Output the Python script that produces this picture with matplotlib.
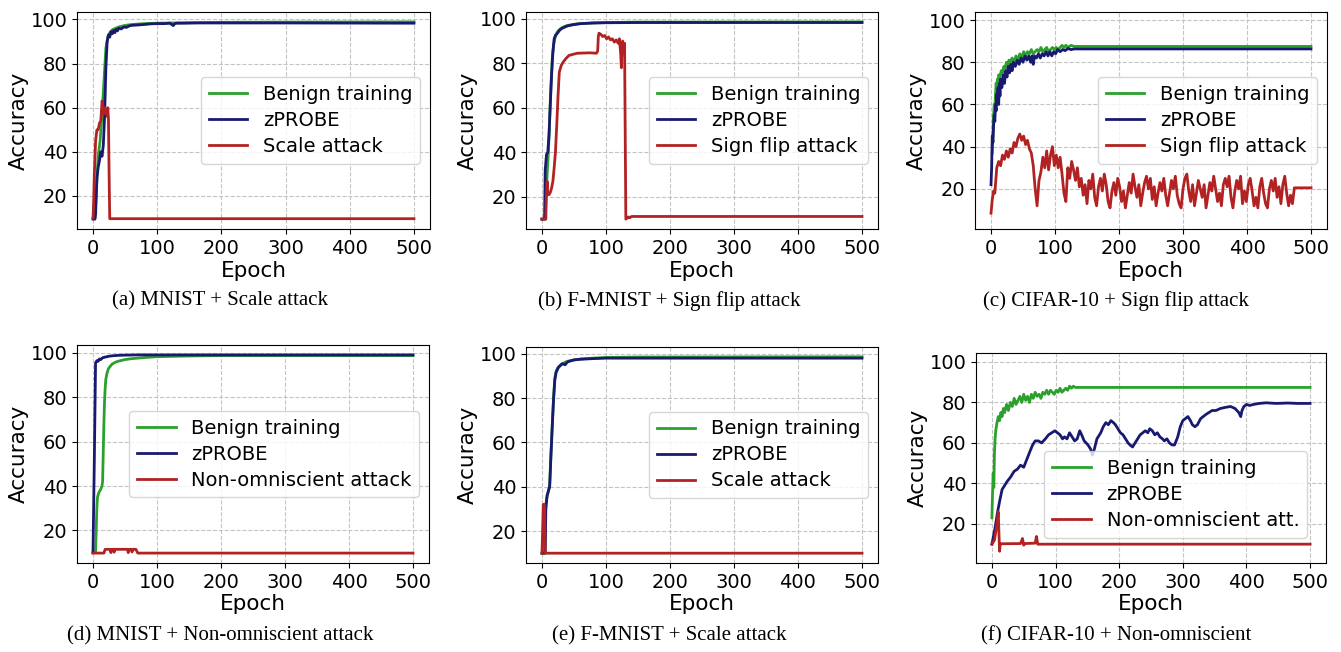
import matplotlib
matplotlib.use("Agg")
import matplotlib.pyplot as plt

GREEN = '#2ca02c'
NAVY = '#191970'
RED = '#b22222'

# ---- (a) MNIST + Scale attack ----
a_benign_ep = [0, 3, 5, 8, 11, 14, 17, 20, 23, 26, 30, 35, 40, 50, 60, 80, 100, 150, 200, 300, 500]
a_benign_acc = [10, 10, 22, 38, 45, 57, 72, 87, 92, 94, 95.3, 96, 96.6, 97.3, 97.7, 98.1, 98.3, 98.5, 98.7, 98.8, 98.9]
a_zprobe_ep = [0, 3, 4, 6, 8, 10, 12, 14, 16, 18,
               20, 22, 24, 26, 28, 30, 32, 34, 36, 38,
               40, 44, 48, 52, 56, 60, 70, 80, 90, 100,
               110, 120, 125, 127, 130, 140, 160, 200, 300, 500]
a_zprobe_acc = [9.5, 9.5, 12, 28, 33, 36, 40, 38, 43, 56,
                78, 90, 93, 92, 94.5, 93.5, 95, 94, 95.5, 94.8,
                96, 95.7, 96.6, 96.4, 97, 97.3, 97.5, 97.7, 98, 98.1,
                98.1, 98.3, 97.2, 98, 98.3, 98.3, 98.4, 98.4, 98.4, 98.3]
a_attack_ep = [0, 1, 2, 4, 6, 8, 10, 12, 13, 14,
               15, 16, 18, 20, 22, 23, 24, 25, 26, 500]
a_attack_acc = [10, 18, 30, 45, 50, 50, 53, 54, 58, 63,
                62, 57, 60, 59, 56, 60, 55, 30, 9.7, 9.7]

# ---- (b) F-MNIST + Sign flip attack ----
b_benign_ep = [0, 5, 6, 8, 10, 12, 14, 16, 18, 20, 22, 25, 30, 35, 40, 50, 60, 80, 100, 150, 500]
b_benign_acc = [10, 10, 20, 30, 40, 55, 70, 82, 88, 91, 93, 94.5, 95.8, 96.5, 97, 97.5, 97.8, 98.1, 98.3, 98.5, 98.6]
b_zprobe_ep = [0, 4, 5, 7, 9, 11, 13, 15, 17, 19, 21, 24, 28, 32, 40, 50, 60, 80, 100, 150, 500]
b_zprobe_acc = [10, 10, 32, 39, 40, 48, 62, 75, 85, 91, 92.5, 93.5, 95, 95.8, 96.8, 97.4, 97.8, 98.1, 98.2, 98.3, 98.3]
b_attack_ep = [0, 6, 7, 8, 9, 11, 13, 15, 17, 19,
               21, 23, 25, 27, 30, 33, 37, 42, 48, 55,
               65, 75, 85, 87, 88, 89, 92, 95, 98, 101,
               104, 107, 110, 113, 116, 119, 121, 123, 124, 125,
               126, 128, 129, 131, 133, 135, 137, 140, 500]
b_attack_acc = [10, 10, 22, 27, 21, 21, 22, 24, 27, 33,
                40, 52, 65, 76, 79, 80.5, 82, 83.5, 84, 84.5,
                84.6, 84.7, 84.5, 85.5, 92, 93.5, 93, 92, 92.5, 91,
                91.8, 90.5, 91, 89.5, 90.5, 89, 91, 84, 78, 87,
                90, 85, 89, 10, 10.5, 11, 10.6, 11.2, 11.2]

# ---- (c) CIFAR-10 + Sign flip attack ----
c_benign_ep = [2, 3, 4, 5, 6, 7, 8, 9, 10, 11,
               12, 14, 16, 18, 20, 22, 24, 26, 28, 30,
               33, 36, 39, 42, 45, 48, 51, 54, 57, 60,
               63, 66, 69, 72, 75, 78, 81, 84, 87, 90,
               93, 96, 99, 102, 105, 108, 111, 114, 117, 120,
               125, 130, 500]
c_benign_acc = [37, 45, 55, 60, 58, 65, 70, 67, 72, 70,
                74, 73, 76, 75, 78, 77, 80, 78, 81, 80,
                82, 80, 83, 81, 84, 82, 85, 83, 85, 84,
                86, 84, 85, 86, 85, 87, 85, 86, 87, 85,
                86, 87, 86, 87, 86, 87, 88, 87, 88, 87,
                88, 87.5, 87.5]
c_zprobe_ep = [0, 1, 2, 3, 4, 5, 6, 7, 8, 9,
               10, 11, 12, 13, 14, 15, 17, 19, 21, 23,
               25, 27, 29, 31, 33, 35, 38, 41, 44, 47,
               50, 53, 56, 59, 62, 64, 66, 68, 71, 74,
               77, 80, 83, 86, 89, 92, 95, 98, 101, 104,
               108, 112, 116, 120, 125, 130, 500]
c_zprobe_acc = [22, 30, 45, 42, 50, 55, 52, 60, 57, 65,
                62, 68, 60, 70, 64, 72, 68, 74, 70, 76,
                73, 78, 75, 79, 76, 80, 78, 81, 79, 82,
                80, 83, 81, 83, 80, 83, 79, 83, 82, 84,
                82, 84, 83, 85, 83, 85, 83, 85, 84, 86,
                85, 86, 85.5, 86.5, 86, 86.3, 86.3]
c_attack_ep = [0, 2, 4,
               6, 9, 12, 15, 18, 21, 24, 27, 30, 33,
               36, 39, 42, 45, 48, 51, 54, 57, 60, 63,
               66, 69, 72, 75, 78, 81, 84, 87, 90, 93,
               96, 99, 102, 105, 108, 111, 114, 117, 120, 123,
               126, 129, 132, 135, 138, 141, 144, 147, 150, 153,
               156, 159, 162, 165, 168, 171, 174, 177, 180, 183,
               186, 189, 192, 195, 198, 201, 204, 207, 210, 213,
               216, 219, 222, 225, 228, 231, 234, 237, 240, 243,
               246, 249, 252, 255, 258, 261, 264, 267, 270, 273,
               276, 279, 282, 285, 288, 291, 294, 297, 300, 303,
               306, 309, 312, 315, 318, 321, 324, 327, 330, 333,
               336, 339, 342, 345, 348, 351, 354, 357, 360, 363,
               366, 369, 372, 375, 378, 381, 384, 387, 390, 393,
               396, 399, 402, 405, 408, 411, 414, 417, 420, 423,
               426, 429, 432, 435, 438, 441, 444, 447, 450, 453,
               456, 459, 462, 465, 468, 471, 474, 500]
c_attack_acc = [8.5, 15, 19,
                18, 30, 33, 31, 36, 34, 38, 35, 39, 37,
                42, 40, 44, 46, 43, 45, 41, 43, 39, 37,
                31, 20, 12, 24, 28, 35, 30, 38, 29, 36,
                40, 31, 36, 30, 35, 27, 18, 14, 30, 25,
                33, 29, 24, 30, 21, 25, 17, 22, 13, 24,
                20, 27, 16, 12, 21, 25, 19, 27, 22, 14,
                11, 19, 23, 17, 25, 21, 14, 19, 11, 17,
                23, 18, 27, 21, 16, 22, 12, 18, 23, 26,
                20, 25, 15, 21, 12, 18, 23, 19, 25, 17,
                12, 18, 24, 20, 26, 17, 13, 11, 20, 25,
                27, 19, 14, 22, 12, 18, 24, 20, 16, 22,
                11, 17, 23, 19, 26, 20, 14, 18, 12, 22,
                25, 21, 26, 16, 11, 19, 24, 20, 26, 13,
                19, 14, 22, 25, 19, 12, 16, 11, 21, 25,
                18, 13, 11, 20, 24, 19, 25, 16, 21, 13,
                22, 26, 18, 12, 17, 13, 20.5, 20.5]

# ---- (d) MNIST + Non-omniscient attack ----
d_benign_ep = [0, 4, 5, 6, 7, 9, 12, 14, 15, 16,
               17, 18, 19, 20, 22, 24, 27, 30, 35, 40,
               50, 60, 80, 100, 150, 200, 500]
d_benign_acc = [10, 10, 20, 30, 35, 37, 38.5, 40, 42, 55,
                68, 78, 84, 88, 91, 92.8, 94, 95, 95.8, 96.3,
                97, 97.4, 97.9, 98.3, 98.6, 98.8, 98.8]
d_zprobe_ep = [0, 2, 4, 6, 8, 10, 12, 15, 20, 25, 30, 40, 50, 70, 100, 500]
d_zprobe_acc = [10, 50, 95.5, 96.5, 96.2, 97.3, 97, 97.8, 98.2, 98.5, 98.7, 98.9, 99, 99.1, 99.1, 99.1]
d_attack_ep = [0, 17, 19, 27, 28, 29, 32, 33, 34, 45, 54, 55, 56, 60, 61, 62, 67, 70, 500]
d_attack_acc = [9.8, 9.8, 11.5, 11.5, 10, 11.5, 11.5, 10.2, 11.5, 11.5,
                11.5, 10, 11.5, 11.5, 10.3, 11.5, 11.5, 9.8, 9.8]

# ---- (e) F-MNIST + Scale attack ----
e_benign_ep = [0, 4, 5, 6, 8, 10, 12, 14, 16, 18, 20, 22, 25, 30, 35, 40, 50, 60, 80, 100, 150, 500]
e_benign_acc = [10, 10, 25, 32, 36, 38, 41, 55, 68, 80, 89, 92, 93.8, 95.2, 96, 96.6, 97.2, 97.6, 98, 98.3, 98.5, 98.6]
e_zprobe_ep = [0, 5, 6, 8, 10, 12, 14, 16, 18, 20, 22, 25, 28, 32, 36, 40, 45, 50, 60, 80, 100, 150, 500]
e_zprobe_acc = [10, 10, 30, 36, 38, 40, 54, 67, 79, 88, 91.5, 93.5, 94.5, 95.5, 95, 96.3, 96.8, 97.2, 97.5, 97.8, 98, 98, 98]
e_attack_ep = [0, 2, 4, 5, 500]
e_attack_acc = [10, 32, 32, 10, 10]

# ---- (f) CIFAR-10 + Non-omniscient ----
f_benign_ep = [0, 1, 2, 3, 4, 5, 6, 8, 10, 12,
               14, 16, 18, 20, 23, 26, 29, 32, 35, 38,
               41, 44, 47, 50, 53, 56, 59, 62, 65, 68,
               71, 74, 77, 80, 83, 86, 89, 92, 95, 98,
               101, 104, 107, 110, 113, 116, 119, 122, 125, 128,
               131, 500]
f_benign_acc = [23, 35, 45, 38, 55, 62, 66, 70, 73, 71,
                75, 73, 77, 75, 79, 76, 80, 78, 82, 79,
                81, 83, 80, 84, 81, 83, 80, 84, 82, 85,
                83, 84, 82, 85, 84, 86, 84, 86, 85, 84,
                86, 85, 87, 85, 86, 87, 86, 88, 87, 88,
                87.4, 87.4]
f_zprobe_ep = [0, 5, 9, 12, 16, 20, 24, 29, 35, 40,
               45, 50, 55, 60, 64, 68, 73, 78, 84, 89,
               94, 99, 103, 107, 111, 114, 118, 122, 126, 130,
               134, 138, 141, 145, 148, 151, 155, 158, 161, 165,
               171, 175, 179, 183, 187, 191, 194, 198, 202, 206,
               210, 214, 217, 221, 225, 229, 233, 237, 241, 245,
               248, 252, 256, 260, 264, 268, 271, 275, 279, 283,
               287, 292, 296, 300, 304, 308, 312, 315, 319, 323,
               328, 332, 336, 341, 346, 352, 359, 366, 375, 382,
               388, 391, 393, 396, 400, 405, 411, 420, 431, 447,
               465, 480, 500]
f_zprobe_acc = [10, 18, 26, 31, 37, 39, 41, 43, 46, 47,
                49, 48, 52, 56, 59, 61, 61, 60, 62, 64,
                65, 66, 65, 64, 62, 63, 62, 65, 63, 61,
                62, 66, 64, 61, 60, 59, 57, 54, 57, 62,
                65, 68, 70, 69, 71, 70, 69, 67, 65, 64,
                62, 60, 59, 58, 60, 62, 64, 65, 66, 65,
                67, 66, 64, 65, 63, 62, 61, 62, 60, 59,
                59, 63, 68, 71, 72, 73, 71, 69, 68, 69,
                72, 73, 74, 75, 76, 76, 77, 77.5, 78, 77,
                75, 73, 76, 78, 79, 78.5, 79, 79.5, 79.8, 79.5,
                79.7, 79.5, 79.5]
f_attack_ep = [0, 4, 8, 10, 11, 12, 13, 14, 45, 48, 50, 52, 68, 70, 72, 500]
f_attack_acc = [10, 12, 20, 26, 16, 6.5, 10, 10.2, 10.3, 12.8, 9.5, 10.3, 10.5, 13.8, 10, 10]

panels = [
    (a_benign_ep, a_benign_acc, a_zprobe_ep, a_zprobe_acc, a_attack_ep, a_attack_acc, 'Scale attack'),
    (b_benign_ep, b_benign_acc, b_zprobe_ep, b_zprobe_acc, b_attack_ep, b_attack_acc, 'Sign flip attack'),
    (c_benign_ep, c_benign_acc, c_zprobe_ep, c_zprobe_acc, c_attack_ep, c_attack_acc, 'Sign flip attack'),
    (d_benign_ep, d_benign_acc, d_zprobe_ep, d_zprobe_acc, d_attack_ep, d_attack_acc, 'Non-omniscient attack'),
    (e_benign_ep, e_benign_acc, e_zprobe_ep, e_zprobe_acc, e_attack_ep, e_attack_acc, 'Scale attack'),
    (f_benign_ep, f_benign_acc, f_zprobe_ep, f_zprobe_acc, f_attack_ep, f_attack_acc, 'Non-omniscient att.'),
]
captions = ['(a) MNIST + Scale attack', '(b) F-MNIST + Sign flip attack',
            '(c) CIFAR-10 + Sign flip attack', '(d) MNIST + Non-omniscient attack',
            '(e) F-MNIST + Scale attack', '(f) CIFAR-10 + Non-omniscient']

W, H = 1341, 652
# axes boxes in pixels: left, right, top, bottom
boxes = [(77, 430, 12, 229), (526, 878, 12, 229), (975, 1327, 12, 229),
         (77, 429, 345, 563), (526, 878, 347, 563), (976, 1326, 353, 563)]
ylims = [None, None, (1.0, 103.8), None, None, (0.7, 104.4)]
caption_pos = [(220, 301), (669, 301), (1116, 301), (220, 636), (669, 636), (1116, 636)]

fig = plt.figure(figsize=(W / 100, H / 100), dpi=100)

for i, (bx, by, zx, zy, rx, ry, att) in enumerate(panels):
    l, r, t, b = boxes[i]
    ax = fig.add_axes([l / W, 1 - b / H, (r - l) / W, (b - t) / H])
    ax.plot(bx, by, color=GREEN, lw=2, label='Benign training')
    ax.plot(zx, zy, color=NAVY, lw=2, label='zPROBE')
    ax.plot(rx, ry, color=RED, lw=2, label=att)
    if ylims[i]:
        ax.set_ylim(*ylims[i])
    ax.set_xticks([0, 100, 200, 300, 400, 500])
    ax.set_yticks([20, 40, 60, 80, 100])
    ax.grid(True, ls='--', color='#c4c4c4', lw=0.8)
    ax.tick_params(labelsize=14)
    ax.set_xlabel('Epoch', fontsize=15.5, labelpad=2)
    ax.set_ylabel('Accuracy', fontsize=15.5, labelpad=1)
    if i == 5:
        ax.legend(loc='lower right', bbox_to_anchor=(0.946, 0.119), borderaxespad=0,
                  fontsize=14, labelspacing=0.36)
    else:
        ax.legend(loc='center right', fontsize=14, labelspacing=0.36)
    cx, cy = caption_pos[i]
    fig.text(cx / W, 1 - cy / H, captions[i], ha='center', va='center',
             fontsize=15, family='Liberation Serif')

fig.savefig('out.png', dpi=100)
